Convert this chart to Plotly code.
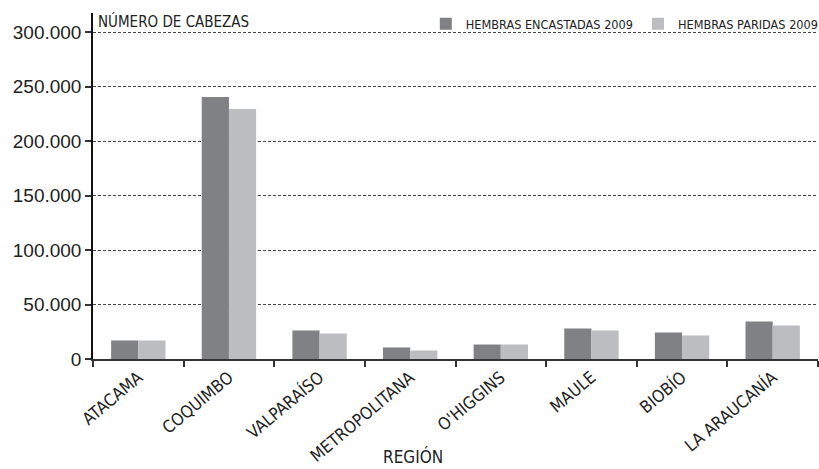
import plotly.graph_objects as go

regiones = ["ATACAMA", "COQUIMBO", "VALPARAÍSO", "METROPOLITANA", "O'HIGGINS",
            "MAULE", "BIOBÍO", "LA ARAUCANÍA"]
encastadas_2009 = [17000, 240500, 26200, 10600, 13300, 28000, 24300, 34500]
paridas_2009 = [17000, 229500, 23400, 7800, 13300, 26200, 21600, 30800]
y_ticks = [0, 50000, 100000, 150000, 200000, 250000, 300000]

NARROW = "Liberation Sans Narrow, DejaVu Sans Condensed, Roboto Condensed, Arial Narrow, sans-serif"
REG = "Liberation Sans, Arial, Helvetica, sans-serif"

fig = go.Figure()
fig.add_trace(go.Bar(name="HEMBRAS ENCASTADAS 2009", x=regiones, y=encastadas_2009,
                     marker=dict(color="#808185", line=dict(width=0))))
fig.add_trace(go.Bar(name="HEMBRAS PARIDAS 2009", x=regiones, y=paridas_2009,
                     marker=dict(color="#bcbdc0", line=dict(width=0))))

fig.update_layout(
    width=819, height=469,
    margin=dict(l=93, r=1, t=13, b=110, autoexpand=False),
    paper_bgcolor="white", plot_bgcolor="white",
    barmode="group", bargap=0.4, bargroupgap=0,
    separators=",.",
    showlegend=True,
    legend=dict(orientation="h", x=1.008, xanchor="right", y=0.968, yanchor="middle",
                font=dict(family=NARROW, size=12.6, color="#222"),
                itemwidth=30, bgcolor="rgba(0,0,0,0)", traceorder="normal"),
    xaxis=dict(
        type="category", tickson="boundaries", tickangle=-40,
        showline=True, linecolor="#333", linewidth=2,
        ticks="outside", ticklen=6, tickwidth=2, tickcolor="#333",
        showgrid=False, automargin=False,
        tickfont=dict(family=NARROW, size=17, color="#222"),
    ),
    yaxis=dict(
        range=[0, 317500], tickvals=y_ticks, tickformat=",d",
        showline=True, linecolor="#111", linewidth=1.5,
        ticks="outside", ticklen=6, tickwidth=1.5, tickcolor="#333",
        showgrid=True, gridcolor="#444", gridwidth=1, griddash="3px,2px",
        zeroline=False, automargin=False,
        tickfont=dict(family=REG, size=19, color="#222"),
    ),
    annotations=[
        dict(text="NÚMERO DE CABEZAS", xref="paper", yref="paper", x=0, y=1,
             xanchor="left", yanchor="middle", xshift=3, yshift=-8, showarrow=False,
             font=dict(family=NARROW, size=15, color="#222")),
        dict(text="REGIÓN", xref="paper", yref="paper", x=0.441, y=0, yshift=-97,
             xanchor="center", yanchor="middle", showarrow=False,
             font=dict(family=NARROW, size=17, color="#222")),
    ],
)

fig.write_html("out.html", config={"displayModeBar": False},
               post_script="document.body.style.margin='0';document.body.style.overflow='hidden';")
